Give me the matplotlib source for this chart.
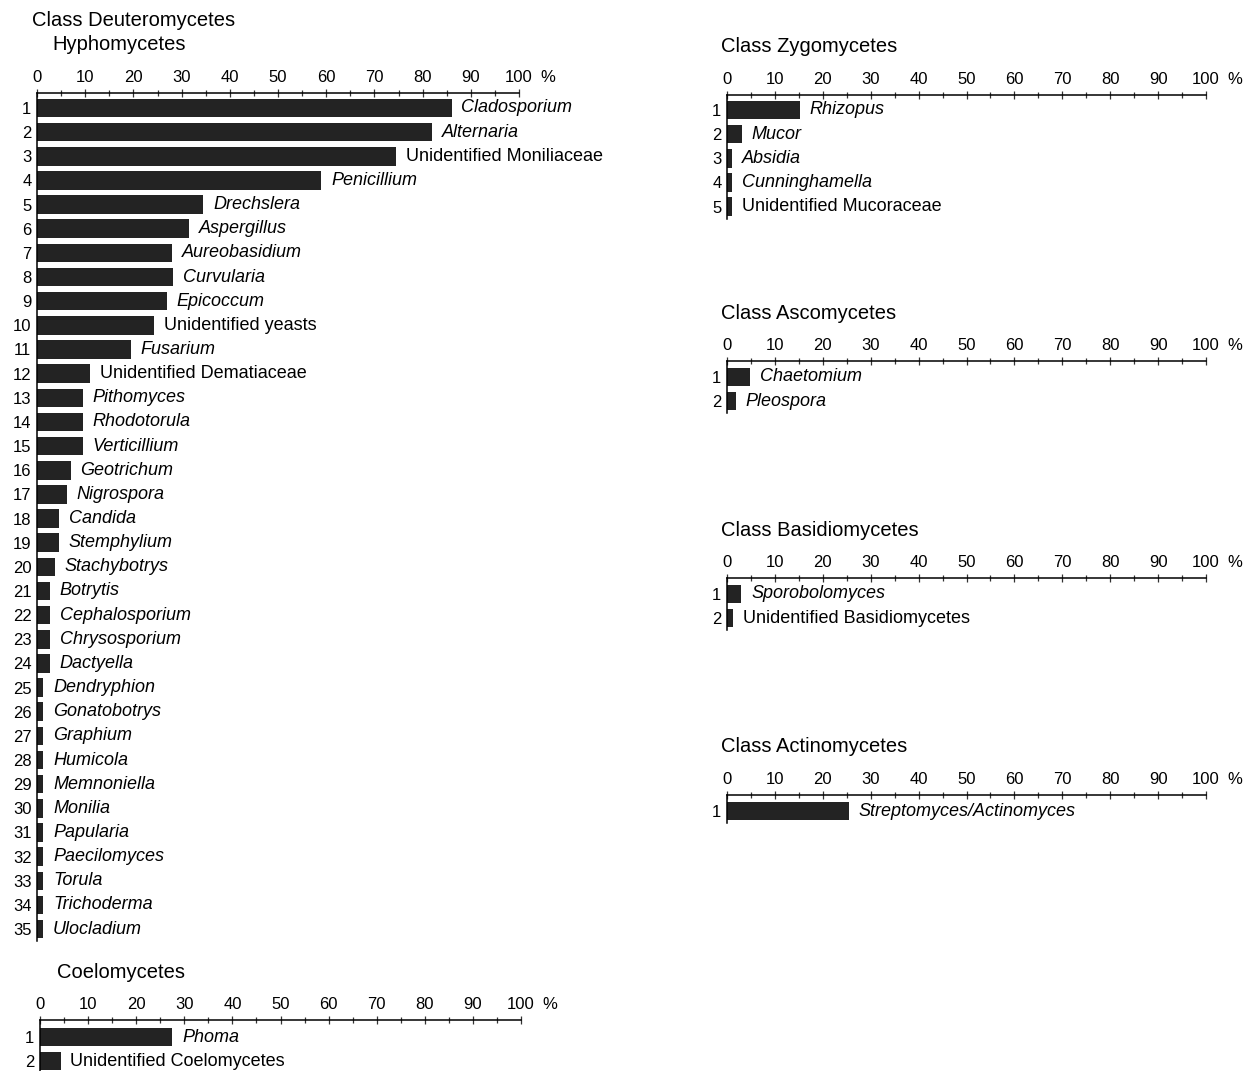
import matplotlib
matplotlib.use('Agg')
import matplotlib.pyplot as plt

plt.rcParams['font.family'] = ['Liberation Sans', 'DejaVu Sans']

W, H = 1248, 1071

# percentage of samples in which each genus was found
hypho_names = ['Cladosporium', 'Alternaria', 'Unidentified Moniliaceae', 'Penicillium',
               'Drechslera', 'Aspergillus', 'Aureobasidium', 'Curvularia', 'Epicoccum',
               'Unidentified yeasts', 'Fusarium', 'Unidentified Dematiaceae', 'Pithomyces',
               'Rhodotorula', 'Verticillium', 'Geotrichum', 'Nigrospora', 'Candida',
               'Stemphylium', 'Stachybotrys', 'Botrytis', 'Cephalosporium', 'Chrysosporium',
               'Dactyella', 'Dendryphion', 'Gonatobotrys', 'Graphium', 'Humicola',
               'Memnoniella', 'Monilia', 'Papularia', 'Paecilomyces', 'Torula',
               'Trichoderma', 'Ulocladium']
hypho_vals = [86, 82, 74.5, 59, 34.5, 31.5, 28, 28.3, 27, 24.3, 19.5, 11, 9.5, 9.5, 9.5,
              7, 6.2, 4.6, 4.6, 3.7, 2.7, 2.7, 2.7, 2.7, 1.3, 1.3, 1.3, 1.3, 1.3, 1.3,
              1.3, 1.3, 1.3, 1.3, 1.3]

coelo_names = ['Phoma', 'Unidentified Coelomycetes']
coelo_vals = [27.5, 4.3]

zygo_names = ['Rhizopus', 'Mucor', 'Absidia', 'Cunninghamella', 'Unidentified Mucoraceae']
zygo_vals = [15.2, 3.1, 1.0, 1.0, 1.0]

asco_names = ['Chaetomium', 'Pleospora']
asco_vals = [4.8, 1.9]

basidio_names = ['Sporobolomyces', 'Unidentified Basidiomycetes']
basidio_vals = [3.0, 1.3]

actino_names = ['Streptomyces/Actinomyces']
actino_vals = [25.5]

fig = plt.figure(figsize=(W / 100, H / 100), dpi=100)
fig.patch.set_facecolor('white')

ROW = 24.15  # pixels between bars


def panel(left, right, axis_y, first_row, names, vals):
    n = len(names)
    top = 1 - (first_row - axis_y) / ROW
    bottom = n + 0.5
    hpx = (bottom - top) * ROW
    ax = fig.add_axes([left / W, 1 - (axis_y + hpx) / H, (right - left) / W, hpx / H])
    ax.patch.set_visible(False)
    rows = list(range(1, n + 1))
    ax.barh(rows, vals, height=0.77, color='#232323')
    ax.set_xlim(0, 100)
    ax.set_ylim(bottom, top)

    for s in ['right', 'bottom']:
        ax.spines[s].set_visible(False)
    ax.spines['top'].set_linewidth(1.1)
    ax.spines['left'].set_linewidth(1.1)

    ax.set_xticks(range(0, 101, 10))
    ax.set_xticks(range(5, 100, 10), minor=True)
    ax.xaxis.set_ticks_position('top')
    ax.tick_params(axis='x', which='both', direction='inout', top=True, bottom=False,
                   labeltop=True, labelbottom=False, width=0.9, color='#333333')
    ax.tick_params(axis='x', which='major', length=6, pad=3, labelsize=12)
    ax.tick_params(axis='x', which='minor', length=5)

    ax.set_yticks(rows)
    ax.set_yticklabels([str(r) for r in rows])
    ax.tick_params(axis='y', length=0, pad=4, labelsize=12)

    # unit sign sits on the tick-label line, just past 100
    ax.annotate('%', xy=(106, 1), xycoords=('data', 'axes fraction'),
                xytext=(0, 11.5), textcoords='offset points',
                ha='center', va='center', fontsize=12)

    for r, v, name in zip(rows, vals, names):
        style = 'normal' if name.startswith('Unidentified') else 'italic'
        ax.annotate(name, xy=(v, r), xytext=(7, 0), textcoords='offset points',
                    ha='left', va='center', fontsize=13, fontstyle=style)
    return ax


def title(x, y, s):
    fig.text(x / W, 1 - y / H, s, ha='left', va='center', fontsize=14.5)


title(32, 20, 'Class Deuteromycetes')
title(52, 45, 'Hyphomycetes')
panel(37, 519, 93, 108, hypho_names, hypho_vals)

title(57, 973, 'Coelomycetes')
panel(40, 521, 1020, 1037, coelo_names, coelo_vals)

title(721, 47, 'Class Zygomycetes')
panel(727, 1206, 95, 110, zygo_names, zygo_vals)

title(721, 313, 'Class Ascomycetes')
panel(727, 1206, 361, 377, asco_names, asco_vals)

title(721, 530, 'Class Basidiomycetes')
panel(727, 1206, 578, 594, basidio_names, basidio_vals)

title(721, 747, 'Class Actinomycetes')
panel(727, 1206, 795, 811, actino_names, actino_vals)

fig.savefig('out.png', dpi=100)
